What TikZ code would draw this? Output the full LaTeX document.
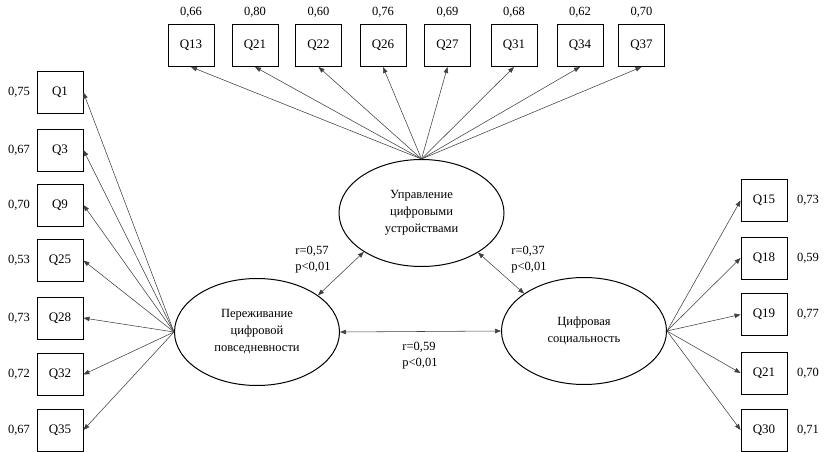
\documentclass[tikz,border=0pt]{standalone}
\usepackage{fontspec}
\setmainfont{Liberation Serif}
\usetikzlibrary{shapes.geometric,arrows.meta}
\begin{document}
\begin{tikzpicture}[x=1pt,y=-1pt,
  item/.style={draw,line width=0.9pt,minimum width=46pt,minimum height=42pt,inner sep=0pt,font=\fontsize{13}{15}\selectfont},
  factor/.style={draw,ellipse,line width=1pt,minimum width=165pt,minimum height=107pt,inner sep=0pt,align=center,font=\fontsize{12.5}{17}\selectfont},
  load/.style={font=\fontsize{12.5}{15}\selectfont,inner sep=0pt},
  stat/.style={font=\fontsize{12.5}{16}\selectfont,align=left,inner sep=0pt},
  path/.style={draw=black!75,line width=0.55pt,-{Triangle[length=6pt,width=4.5pt]}},
  corr/.style={draw=black!75,line width=0.55pt,{Triangle[length=6pt,width=4.5pt]}-{Triangle[length=6pt,width=4.5pt]}}
]
\useasboundingbox (0,0) rectangle (825,452);

% latent factors
\node[factor] (tE) at (421.5,213) {Управление\\цифровыми\\устройствами};
\node[factor] (lE) at (257,332) {Переживание\\цифровой\\повседневности};
\node[factor] (rE) at (584,331) {Цифровая\\социальность};

% top indicators
\foreach \n/\x/\v in {Q13/191/{0,66},Q21/255/{0,80},Q22/318.5/{0,60},Q26/383/{0,76},Q27/447.5/{0,69},Q31/514/{0,68},Q34/580/{0,62},Q37/641.5/{0,70}}{
  \node[item] (t\n) at (\x,45.5) {\n};
  \node[load] (vt\n) at (\x,12) {\v};
  \draw[path] (tE.north) -- (t\n.south);
}

% left indicators
\foreach \n/\y/\v in {Q1/92.5/{0,75},Q3/150/{0,67},Q9/205/{0,70},Q25/260.5/{0,53},Q28/318/{0,73},Q32/374.5/{0,72},Q35/430/{0,67}}{
  \node[item] (l\n) at (60,\y) {\n};
  \node[load] (vl\n) at (19,\y) {\v};
  \draw[path] (lE.west) -- (l\n.east);
}

% right indicators
\foreach \n/\y/\v in {Q15/200.5/{0,73},Q18/258/{0,59},Q19/314.5/{0,77},Q21/373/{0,70},Q30/430/{0,71}}{
  \node[item] (r\n) at (764,\y) {\n};
  \node[load] (vr\n) at (808,\y) {\v};
  \draw[path] (rE.east) -- (r\n.west);
}

% correlations between factors
\draw[corr] (lE.31) -- (tE.214);
\draw[corr] (rE.148) -- (tE.325);
\draw[corr] (lE.east) -- (rE.west);

\node[stat] (s1) at (313,260) {r=0,57\\p<0,01};
\node[stat] (s2) at (529,260) {r=0,37\\p<0,01};
\node[stat] (s3) at (420,356) {r=0,59\\p<0,01};
\end{tikzpicture}
\end{document}
